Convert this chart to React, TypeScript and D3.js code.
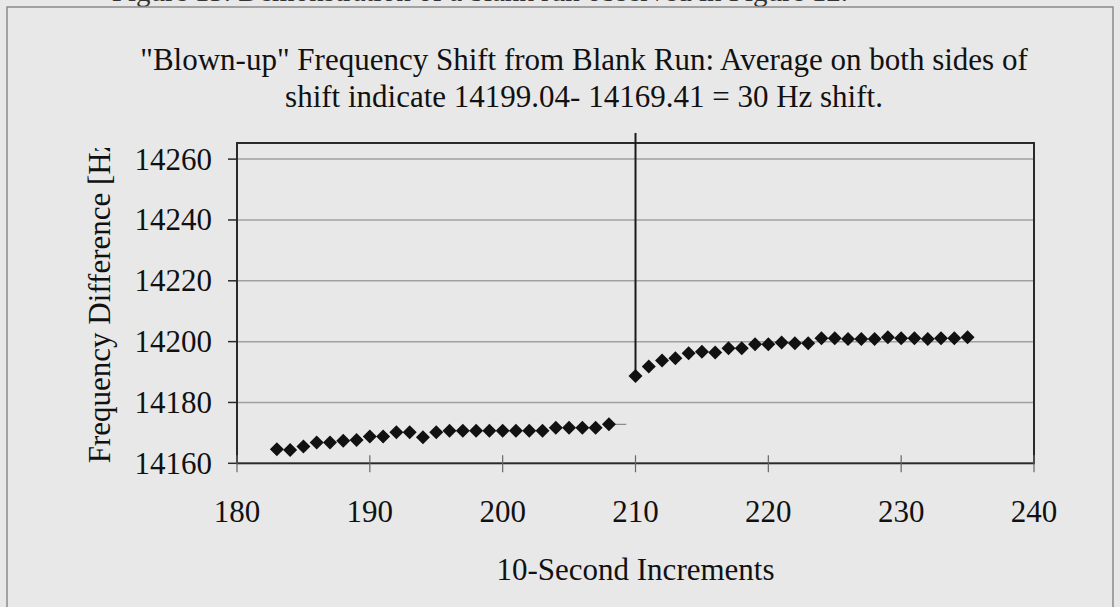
import React from "react";
import * as d3 from "d3";

const leftX = [183,184,185,186,187,188,189,190,191,192,193,194,195,196,197,198,199,200,201,202,203,204,205,206,207,208];
const leftY = [14164.6,14164.4,14165.5,14166.8,14166.8,14167.4,14167.7,14168.8,14168.8,14170.2,14170.2,14168.6,14170.2,14170.7,14170.7,14170.7,14170.7,14170.7,14170.7,14170.7,14170.7,14171.7,14171.7,14171.7,14171.7,14172.8];
const rightX = [210,211,212,213,214,215,216,217,218,219,220,221,222,223,224,225,226,227,228,229,230,231,232,233,234,235];
const rightY = [14188.7,14191.8,14193.8,14194.5,14196.2,14196.7,14196.4,14197.8,14197.8,14199.1,14199.1,14199.7,14199.5,14199.5,14201.1,14201.1,14200.9,14200.9,14200.9,14201.4,14201.1,14201.1,14200.9,14201.1,14201.1,14201.4];
const dividerX = [210, 210];
const dividerY = [14268.6, 14188.7];
const xTicks = [180,190,200,210,220,230,240];
const yTicks = [14160,14180,14200,14220,14240,14260];
const titleLines = [
  "\"Blown-up\" Frequency Shift from Blank Run: Average on both sides of",
  "shift indicate 14199.04- 14169.41 = 30 Hz shift.",
];
const xTitle = "10-Second Increments";
const yTitle = "Frequency Difference [Hz]";
const caption = "Figure 13. Demonstration of a blank run observed in Figure 12.";

const W = 1120, H = 607;
const L = 237, R = 1034, T = 143, B = 463.3;
const font = "'Liberation Serif', 'Times New Roman', serif";
const FS = 31;

export default function App() {
  const x = d3.scaleLinear().domain([180, 240]).range([L, R]);
  const y = d3.scaleLinear().domain([14160, 14265.3]).range([B, T]);
  const diamond = d3.symbol().type(d3.symbolDiamond2).size(125)();
  const line = d3.line<[number, number]>().x(d => x(d[0])).y(d => y(d[1]));
  const divider = dividerX.map((v, i) => [v, dividerY[i]] as [number, number]);
  const pts = [
    ...leftX.map((v, i) => [v, leftY[i]]),
    ...rightX.map((v, i) => [v, rightY[i]]),
  ];
  return (
    <svg width={W} height={H} style={{ position: "absolute", left: 0, top: 0 }}>
      <defs>
        <clipPath id="ytclip">
          <rect x={0} y={148} width={200} height={400} />
        </clipPath>
      </defs>
      <rect x={0} y={0} width={W} height={H} fill="#e8e8e8" />
      <text x={848} y={1} textAnchor="end" fontFamily={font} fontSize={29} fill="#333">{caption}</text>
      <rect x={7} y={7} width={1106} height={640} fill="none" stroke="#8a8a8a" strokeWidth={1.5} />
      {titleLines.map((t, i) => (
        <text key={i} x={584} y={70 + i * 37} textAnchor="middle" fontFamily={font} fontSize={FS} fill="#111">{t}</text>
      ))}
      {yTicks.filter(v => v > 14160).map(v => (
        <line key={v} x1={L} x2={R} y1={y(v)} y2={y(v)} stroke="#a0a0a0" strokeWidth={1.5} />
      ))}
      <rect x={L} y={T} width={R - L} height={B - T} fill="none" stroke="#2a2a2a" strokeWidth={2} />
      {yTicks.map(v => (
        <g key={v}>
          <line x1={L - 9} x2={L} y1={y(v)} y2={y(v)} stroke="#2a2a2a" strokeWidth={1.5} />
          <text x={212} y={y(v)} dy="0.34em" textAnchor="end" fontFamily={font} fontSize={FS} fill="#111">{v}</text>
        </g>
      ))}
      {xTicks.map(v => (
        <g key={v}>
          <line x1={x(v)} x2={x(v)} y1={B - 8} y2={B + 9} stroke="#666" strokeWidth={1.2} />
          <text x={x(v)} y={522} textAnchor="middle" fontFamily={font} fontSize={FS} fill="#111">{v}</text>
        </g>
      ))}
      <text x={x(210)} y={580} textAnchor="middle" fontFamily={font} fontSize={FS} fill="#111">{xTitle}</text>
      <g clipPath="url(#ytclip)">
        <text transform={`translate(110,${B}) rotate(-90)`} textAnchor="start" fontFamily={font} fontSize={FS} fill="#111">{yTitle}</text>
      </g>
      <line x1={x(208)} x2={x(209.3)} y1={y(14172.8)} y2={y(14172.8)} stroke="#888" strokeWidth={1.2} />
      <path d={line(divider) || ""} stroke="#1a1a1a" strokeWidth={2} fill="none" />
      {pts.map((p, i) => (
        <path key={i} d={diamond || ""} transform={`translate(${x(p[0])},${y(p[1])})`} fill="#111" />
      ))}
    </svg>
  );
}
